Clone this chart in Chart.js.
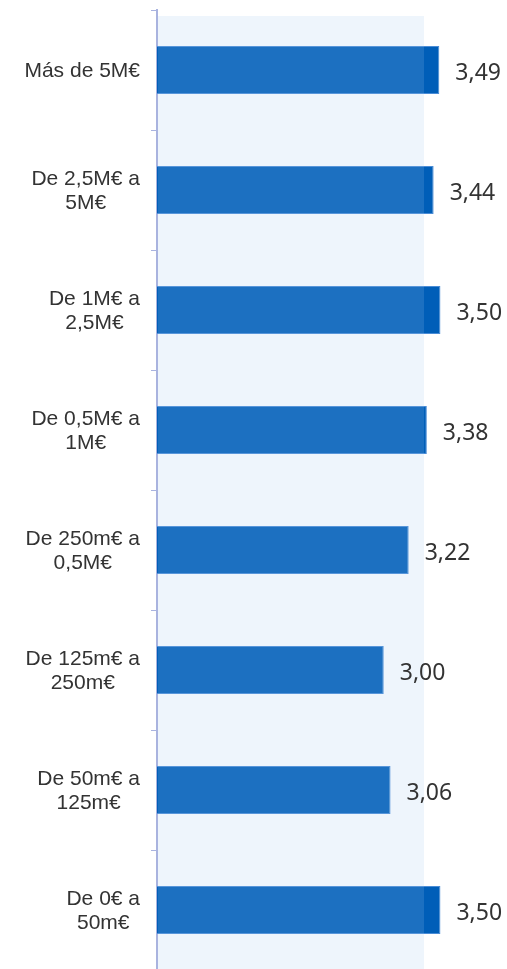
<!DOCTYPE html>
<html>
<head>
<meta charset="utf-8">
<script src="https://cdn.jsdelivr.net/npm/chart.js@4.4.1/dist/chart.umd.min.js"></script>
<style>
  html, body { margin: 0; padding: 0; background: #fff; overflow: hidden; }
  #wrap { position: relative; width: 507px; height: 970px; }
</style>
</head>
<body>
<div id="wrap"><canvas id="c"></canvas></div>
<script>
const categories = [
  ['Más de 5M€'],
  ['De 2,5M€ a', '5M€'],
  ['De 1M€ a', '2,5M€'],
  ['De 0,5M€ a', '1M€'],
  ['De 250m€ a', '0,5M€'],
  ['De 125m€ a', '250m€'],
  ['De 50m€ a', '125m€'],
  ['De 0€ a', '50m€']
];
const values = [3.49, 3.44, 3.50, 3.38, 3.22, 3.00, 3.06, 3.50];
const valueLabels = ['3,49', '3,44', '3,50', '3,38', '3,22', '3,00', '3,06', '3,50'];
const xMin = 1;
const xMax = 3.355;

const bandPlugin = {
  id: 'band',
  afterDatasetsDraw(chart) {
    const { ctx, chartArea } = chart;
    ctx.save();
    ctx.fillStyle = 'rgba(156,197,237,0.175)';
    ctx.fillRect(chartArea.left + 1, chartArea.top + 6, chartArea.right - chartArea.left - 1, chartArea.bottom - chartArea.top);
    ctx.restore();
  },
  afterDraw(chart) {
    const { ctx } = chart;
    const xs = chart.scales.x, ys = chart.scales.y;
    ctx.save();
    ctx.font = '23px "Noto Sans"';
    ctx.fillStyle = '#333333';
    ctx.textAlign = 'left';
    ctx.textBaseline = 'middle';
    values.forEach((v, i) => {
      const x = xs.getPixelForValue(v) + 16;
      const y = ys.getPixelForValue(i) + 3;
      ctx.fillText(valueLabels[i], x, y);
    });
    ctx.font = '21px "Liberation Sans"';
    ctx.fillStyle = '#333333';
    ctx.textAlign = 'center';
    ctx.textBaseline = 'middle';
    const right = 140, lh = 24;
    categories.forEach((lines, i) => {
      const w = Math.max(...lines.map(l => ctx.measureText(l).width));
      const cx = right - w / 2;
      const cy = ys.getPixelForValue(i);
      const y0 = cy - (lines.length - 1) * lh / 2;
      lines.forEach((l, j) => ctx.fillText(l, cx, y0 + j * lh + 1));
    });
    ctx.restore();
  }
};

new Chart(document.getElementById('c'), {
  type: 'bar',
  data: {
    labels: categories,
    datasets: [{
      data: values,
      base: xMin,
      backgroundColor: '#005EB8',
      borderColor: '#4A8CD6',
      borderWidth: 1,
      borderSkipped: 'left',
      barPercentage: 0.4,
      categoryPercentage: 1.0,
      clip: false
    }]
  },
  options: {
    indexAxis: 'y',
    responsive: true,
    maintainAspectRatio: false,
    animation: false,
    layout: { padding: { top: 10, right: 83, bottom: 0, left: 0 } },
    plugins: { legend: { display: false }, tooltip: { enabled: false } },
    scales: {
      x: {
        min: xMin, max: xMax,
        display: false
      },
      y: {
        afterFit(scale) { scale.width = 157; },
        ticks: { display: false },
        grid: { drawOnChartArea: false, tickLength: 6, color: '#A9B3DF', offset: true },
        border: { display: true, color: '#A9B3DF', width: 2 }
      }
    }
  },
  plugins: [bandPlugin]
});
</script>
</body>
</html>
